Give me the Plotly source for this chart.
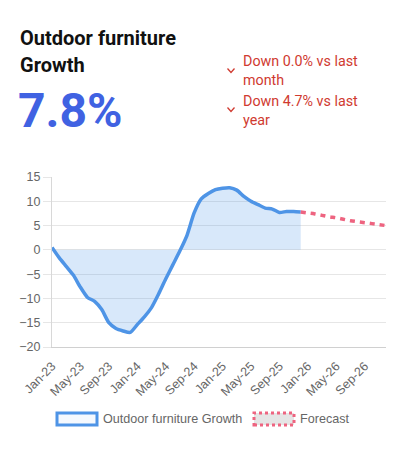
import plotly.graph_objects as go

months = ["Jan","Feb","Mar","Apr","May","Jun","Jul","Aug","Sep","Oct","Nov","Dec"]
labels = [f"{m}-{y}" for y in ["23","24","25","26"] for m in months]

actual_values = [0.5, -1.6, -3.4, -5.2, -7.7, -9.8, -10.6, -12.3, -15.0, -16.2, -16.7, -17.0,
                 -15.4, -13.8, -11.9, -9.1, -6.0, -3.1, -0.2, 3.0, 7.6, 10.5, 11.6, 12.4,
                 12.7, 12.8, 12.3, 11.0, 10.0, 9.3, 8.6, 8.4, 7.7, 7.9, 7.9, 7.8]
forecast_values = [7.8, 7.6, 7.4, 7.1, 6.8, 6.6, 6.3, 6.0, 5.8, 5.6, 5.4, 5.2, 5.0]
forecast_start = len(actual_values) - 1
tick_labels = labels[::4]

title_text = ["Outdoor furniture", "Growth"]
kpi_text = "7.8%"
change_text = [["Down 0.0% vs last", "month"], ["Down 4.7% vs last", "year"]]
legend_names = ["Outdoor furniture Growth", "Forecast"]

BLUE = "rgb(78,148,230)"
FILL = "rgba(78,148,230,0.22)"
PINK = "rgb(238,100,128)"
RED = "rgb(208,58,48)"
GRID = "#e6e6e6"
TICK = "#666666"

OFF = 8  # page body margin
W, H = 411 - OFF, 455 - OFF
L, R, T, B = 52 - OFF, 25, 177 - OFF, 455 - 347
pw, ph = W - L - R, H - T - B

def sx(x):
    return (x - OFF - L) / pw
def sy(y):
    return (H - B - (y - OFF)) / ph

fig = go.Figure()
fig.add_trace(go.Scatter(
    x=labels[:len(actual_values)], y=actual_values, mode="lines",
    line=dict(color=BLUE, width=3.5, shape="spline", smoothing=0.6),
    fill="tozeroy", fillcolor=FILL, name=legend_names[0], showlegend=False,
))
fig.add_trace(go.Scatter(
    x=labels[forecast_start:forecast_start + len(forecast_values)], y=forecast_values, mode="lines",
    line=dict(color=PINK, width=3.5, dash="5px,5px", shape="spline"),
    name=legend_names[1], showlegend=False,
))

annotations = []
def add_text(x, y, text, size, color, family="Roboto"):
    annotations.append(dict(x=sx(x), y=sy(y), text=text, xref="paper", yref="paper",
                            xanchor="left", yanchor="middle", showarrow=False,
                            font=dict(family=family, size=size, color=color)))

add_text(18, 38, f"<b>{title_text[0]}</b>", 20, "#111111")
add_text(18, 65, f"<b>{title_text[1]}</b>", 20, "#111111")
add_text(16, 110, f"<b>{kpi_text}</b>", 48, "rgb(64,98,226)")
ys = [[61, 80], [101, 120]]
for block, yy in zip(change_text, ys):
    for line, y in zip(block, yy):
        add_text(241, y, line, 14.3, RED)
add_text(101, 419, legend_names[0], 12.6, TICK, "Liberation Sans")
add_text(298, 419, legend_names[1], 12.6, TICK, "Liberation Sans")

shapes = []
for cy in [71, 110]:
    shapes.append(dict(type="path", xref="paper", yref="paper",
                       path=f"M {sx(227.5)},{sy(cy - 2.5)} L {sx(231)},{sy(cy + 1.5)} L {sx(234.5)},{sy(cy - 2.5)}",
                       line=dict(color=RED, width=1.3)))
shapes.append(dict(type="rect", xref="paper", yref="paper", x0=sx(57), x1=sx(97), y0=sy(425), y1=sy(413),
                   line=dict(color=BLUE, width=3), fillcolor="rgba(78,148,230,0.06)"))
shapes.append(dict(type="rect", xref="paper", yref="paper", x0=sx(254), x1=sx(294), y0=sy(425), y1=sy(413),
                   line=dict(color=PINK, width=3, dash="dot"), fillcolor="rgba(0,0,0,0.1)"))

fig.update_layout(
    width=W, height=H, margin=dict(l=L, r=R, t=T, b=B),
    paper_bgcolor="white", plot_bgcolor="white",
    annotations=annotations, shapes=shapes, showlegend=False,
    font=dict(family="Liberation Sans", size=12, color=TICK),
)
fig.update_xaxes(type="category", categoryorder="array", categoryarray=labels,
                 range=[0, len(labels) - 1], tickmode="array", tickvals=tick_labels,
                 ticktext=tick_labels, tickangle=-45, showgrid=False, showline=True,
                 linecolor="#d0d0d0", linewidth=1, ticks="outside", ticklen=6, tickcolor="rgba(0,0,0,0)",
                 zeroline=False, tickfont=dict(size=12.5, color=TICK))
fig.update_yaxes(range=[-20, 15], dtick=5, showgrid=True, gridcolor=GRID, gridwidth=1,
                 showline=True, linecolor="#d8d8d8", linewidth=1, ticks="outside", ticklen=8,
                 tickcolor=GRID, zeroline=False, tickfont=dict(size=12.5, color=TICK))

fig.write_html("out.html")
